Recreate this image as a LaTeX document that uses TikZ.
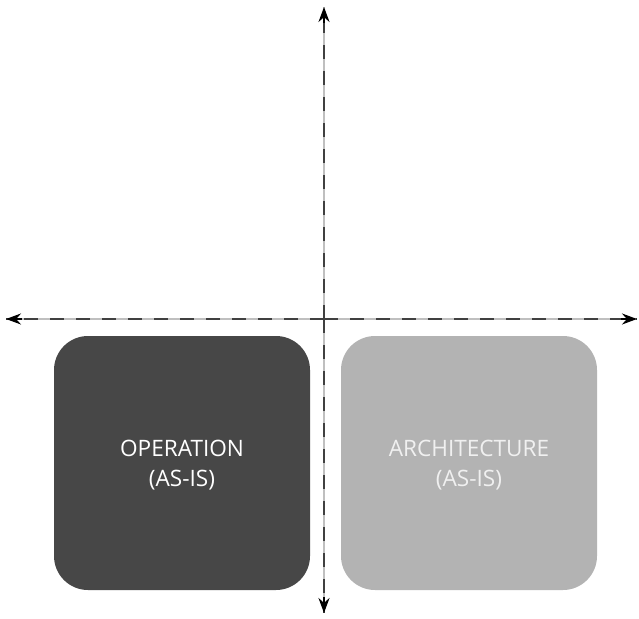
\documentclass[tikz,border=0pt]{standalone}
\usepackage{fontspec}
\setmainfont{Open Sans}
\usetikzlibrary{arrows.meta}
\definecolor{darkbox}{HTML}{474747}
\definecolor{lightbox}{HTML}{B3B3B3}
\begin{document}
\begin{tikzpicture}[x=1pt,y=-1pt,
  quad/.style={rounded corners=34pt, minimum width=256pt, minimum height=254pt, inner sep=0pt},
  quadtext/.style={text=white, align=center, inner sep=0pt, font=\fontsize{22.6}{30}\selectfont},
  axisline/.style={line width=1.8pt, draw=black!25},
  axisdash/.style={line width=1.8pt, draw=black!75, dash pattern=on 14pt off 12pt},
  tip/.style={-{Stealth[length=15pt,width=11pt]}, line width=1.8pt}]
\useasboundingbox (0,0) rectangle (639,618);
\node[quad, fill=darkbox] (op) at (182,463) {};
\node[quad, fill=lightbox] (ar) at (469,463) {};
\node[quadtext] (optext) at ([yshift=-2pt]op.center) {OPERATION\\(AS-IS)};
\node[quadtext, text=white!94!black] (artext) at ([yshift=-2pt]ar.center) {ARCHITECTURE\\(AS-IS)};
\coordinate (c) at (324,319);
\coordinate (top) at (324,7);
\coordinate (bot) at (324,613);
\coordinate (lft) at (6,319);
\coordinate (rgt) at (637,319);
\draw[axisline] (lft) -- (rgt);
\draw[axisline] (top) -- (bot);
\draw[axisdash] (c) -- (lft);
\draw[axisdash] (c) -- (rgt);
\draw[axisdash] (c) -- (top);
\draw[axisdash] (c) -- (bot);
\draw[tip] ([xshift=16pt]lft) -- (lft);
\draw[tip] ([xshift=-16pt]rgt) -- (rgt);
\draw[tip] ([yshift=-16pt]top) -- (top);
\draw[tip] ([yshift=16pt]bot) -- (bot);
\end{tikzpicture}
\end{document}
